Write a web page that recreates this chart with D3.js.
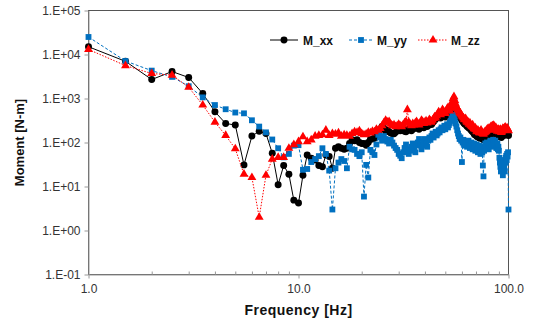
<!DOCTYPE html>
<html>
<head>
<meta charset="utf-8">
<script src="https://cdn.jsdelivr.net/npm/d3@7"></script>
<style>
  body { margin: 0; background: #fff; }
  svg { display: block; font-family: Arial, "Liberation Sans", sans-serif; }
</style>
</head>
<body>
<div id="chart"></div>
<script>
// frequency grid of the spectrum: 1.0 .. 100.0 Hz every 0.5 Hz
const freqStep = 0.5;
const frequencies = d3.range(1, 100 + freqStep / 2, freqStep);

// values, one row = 5 Hz (10 points)
const mxx = [
  15000, 7000, 2700, 4100, 3000, 1300, 500, 270, 250, 31,
  140, 180, 160, 57, 11, 30, 19, 4.9, 4.2, 18,
  52, 44, 40, 30, 28, 52, 48, 26, 74, 80,
  74, 70, 74, 95, 115, 110, 115, 100, 95, 95,
  87, 100, 118, 120, 125, 140, 170, 200, 230, 210,
  180, 190, 175, 165, 160, 158, 170, 185, 190, 185,
  200, 190, 180, 175, 190, 205, 195, 185, 200, 215,
  210, 230, 215, 200, 215, 240, 230, 215, 235, 250,
  230, 245, 260, 270, 255, 280, 300, 320, 340, 360,
  400, 430, 380, 360, 420, 460, 440, 400, 380, 420,
  470, 500, 460, 420, 480, 560, 700, 820, 900, 750,
  600, 520, 480, 440, 400, 380, 360, 340, 320, 300,
  290, 270, 260, 280, 250, 230, 240, 220, 210, 230,
  200, 190, 180, 200, 170, 160, 150, 165, 150, 140,
  135, 150, 140, 130, 125, 140, 150, 135, 125, 120,
  115, 125, 120, 130, 140, 135, 145, 150, 160, 150,
  140, 155, 165, 170, 160, 175, 180, 170, 185, 175,
  165, 160, 170, 155, 150, 140, 145, 150, 140, 135,
  145, 150, 140, 130, 140, 150, 160, 155, 145, 150,
  165, 170, 160, 150, 155, 165, 160, 150, 145
];

const myy = [
  25000, 7100, 4300, 3100, 1900, 1060, 710, 570, 480, 460,
  320, 230, 170, 117, 74, 46, 55, 85, 87, 24,
  25, 36, 42, 49, 74, 55, 23, 3.0, 26, 35,
  42, 38, 26, 80, 70, 68, 55, 49, 60, 5.9,
  31, 16, 68, 60, 52, 90, 150, 130, 110, 140,
  120, 105, 95, 115, 100, 85, 75, 68, 55, 50,
  44, 60, 75, 90, 70, 55, 65, 80, 95, 75,
  60, 85, 100, 120, 90, 70, 85, 105, 120, 95,
  80, 110, 130, 115, 140, 160, 130, 150, 175, 145,
  160, 190, 170, 200, 220, 190, 210, 240, 200, 230,
  260, 220, 250, 280, 310, 350, 400, 430, 380, 320,
  270, 230, 190, 160, 140, 120, 130, 110, 36, 100,
  115, 95, 85, 105, 90, 80, 95, 110, 85, 75,
  90, 100, 80, 70, 85, 95, 75, 65, 80, 90,
  70, 60, 75, 85, 65, 55, 70, 80, 60, 30,
  17, 65, 80, 95, 75, 85, 100, 90, 80, 70,
  85, 100, 110, 95, 80, 90, 105, 115, 95, 85,
  100, 110, 90, 75, 85, 95, 70, 80, 65, 45,
  35, 28, 22, 30, 40, 25, 18, 30, 38, 28,
  22, 35, 45, 50, 40, 55, 48, 60, 3.0
];

const mzz = [
  13000, 5600, 3700, 3400, 1800, 710, 290, 145, 72, 19,
  16, 2.0, 18, 42, 46, 46, 74, 89, 105, 135,
  105, 115, 140, 145, 150, 190, 145, 160, 155, 165,
  140, 150, 145, 140, 160, 175, 170, 185, 160, 150,
  155, 170, 165, 180, 175, 200, 190, 210, 240, 280,
  320, 290, 300, 260, 240, 250, 230, 240, 260, 240,
  230, 250, 280, 300, 560, 290, 260, 240, 270, 250,
  280, 300, 270, 250, 280, 320, 300, 270, 290, 310,
  280, 300, 330, 310, 290, 320, 350, 380, 360, 400,
  450, 500, 460, 430, 500, 560, 520, 480, 460, 520,
  580, 620, 560, 520, 600, 700, 850, 1000, 1100, 900,
  750, 650, 600, 560, 520, 480, 460, 430, 400, 380,
  360, 340, 330, 350, 310, 290, 300, 280, 260, 280,
  250, 240, 230, 250, 220, 210, 200, 215, 195, 180,
  175, 190, 180, 170, 165, 180, 190, 175, 165, 160,
  155, 165, 170, 180, 175, 185, 195, 200, 210, 200,
  190, 205, 220, 230, 215, 235, 240, 225, 245, 230,
  215, 205, 220, 200, 190, 180, 195, 200, 185, 175,
  190, 200, 185, 170, 180, 195, 210, 205, 190, 195,
  215, 225, 210, 195, 200, 215, 205, 190, 185
];

const seriesNames = ["M_xx", "M_yy", "M_zz"];
const yTickValues = [1e-1, 1e0, 1e1, 1e2, 1e3, 1e4, 1e5];
const xTickValues = [1, 10, 100];
const xMinorTicks = [2, 3, 4, 5, 6, 7, 8, 9, 20, 30, 40, 50, 60, 70, 80, 90];

const totalWidth = 534, totalHeight = 324;
const plot = { left: 88.5, right: 508.5, top: 10.5, bottom: 274.5 };

const series = [
  { name: seriesNames[0], values: mxx, color: "#000000", dash: null, symbol: d3.symbolCircle, size: 38 },
  { name: seriesNames[1], values: myy, color: "#0070C0", dash: "3,2", symbol: d3.symbolSquare, size: 34 },
  { name: seriesNames[2], values: mzz, color: "#FF0000", dash: "1.5,1.5", symbol: d3.symbolTriangle, size: 34 }
];

const svg = d3.select("#chart").append("svg")
  .attr("width", totalWidth)
  .attr("height", totalHeight);

const x = d3.scaleLog().domain([1, 100]).range([plot.left, plot.right]);
const y = d3.scaleLog().domain([0.1, 1e5]).range([plot.bottom, plot.top]);

// plot area border (top/right darker)
svg.append("rect")
  .attr("x", plot.left).attr("y", plot.top)
  .attr("width", plot.right - plot.left).attr("height", plot.bottom - plot.top)
  .attr("fill", "none").attr("stroke", "#555").attr("stroke-width", 1);

const expFormat = d => {
  const e = Math.round(Math.log10(d));
  return "1.E" + (e < 0 ? "-" : "+") + String(Math.abs(e)).padStart(2, "0");
};

// Y axis
const yAxis = svg.append("g")
  .attr("transform", `translate(${plot.left},0)`)
  .call(d3.axisLeft(y).tickValues(yTickValues).tickFormat(expFormat).tickSizeInner(4).tickSizeOuter(0).tickPadding(4));
yAxis.select(".domain").attr("stroke", "#999");
yAxis.selectAll(".tick line").attr("stroke", "#999");
yAxis.selectAll("text").attr("fill", "#333").style("font-size", "12px");

// X axis, major ticks
const xAxis = svg.append("g")
  .attr("transform", `translate(0,${plot.bottom})`)
  .call(d3.axisBottom(x).tickValues(xTickValues).tickFormat(d3.format(".1f")).tickSizeInner(4).tickSizeOuter(0).tickPadding(6));
xAxis.select(".domain").attr("stroke", "#999");
xAxis.selectAll(".tick line").attr("stroke", "#999");
xAxis.selectAll("text").attr("fill", "#333").style("font-size", "12px");

// X axis, minor ticks pointing inside
const xMinor = svg.append("g")
  .attr("transform", `translate(0,${plot.bottom})`)
  .call(d3.axisBottom(x).tickValues(xMinorTicks).tickFormat("").tickSizeInner(-3).tickSizeOuter(0));
xMinor.select(".domain").remove();
xMinor.selectAll(".tick line").attr("stroke", "#999");

// axis titles
svg.append("text")
  .attr("x", (plot.left + plot.right) / 2)
  .attr("y", 315)
  .attr("text-anchor", "middle")
  .style("font-size", "14px")
  .style("font-weight", "bold")
  .style("letter-spacing", "0.5px")
  .attr("fill", "#111")
  .text("Frequency [Hz]");

svg.append("text")
  .attr("transform", `translate(24,${(plot.top + plot.bottom) / 2}) rotate(-90)`)
  .attr("text-anchor", "middle")
  .style("font-size", "13px")
  .style("font-weight", "bold")
  .attr("fill", "#111")
  .text("Moment [N-m]");

// series
const line = d3.line()
  .x(d => x(d[0]))
  .y(d => y(d[1]));

series.forEach(s => {
  const pts = frequencies.map((f, i) => [f, s.values[i]]);
  svg.append("path")
    .datum(pts)
    .attr("fill", "none")
    .attr("stroke", s.color)
    .attr("stroke-width", 1)
    .attr("stroke-dasharray", s.dash)
    .attr("d", line);

  svg.append("g")
    .selectAll("path")
    .data(pts)
    .join("path")
    .attr("transform", d => `translate(${x(d[0])},${y(d[1])})`)
    .attr("d", d3.symbol().type(s.symbol).size(s.size))
    .attr("fill", s.color);
});

// legend
const legendItems = [
  { x0: 270, x1: 298, tx: 303 },
  { x0: 349, x1: 373, tx: 377 },
  { x0: 418, x1: 448, tx: 451 }
];
const legendY = 40;
series.forEach((s, i) => {
  const li = legendItems[i];
  svg.append("line")
    .attr("x1", li.x0).attr("x2", li.x1)
    .attr("y1", legendY).attr("y2", legendY)
    .attr("stroke", s.color)
    .attr("stroke-dasharray", s.dash);
  svg.append("path")
    .attr("transform", `translate(${(li.x0 + li.x1) / 2},${legendY})`)
    .attr("d", d3.symbol().type(s.symbol).size(s.size))
    .attr("fill", s.color);
  svg.append("text")
    .attr("x", li.tx)
    .attr("y", legendY + 4.5)
    .style("font-size", "12px")
    .style("font-weight", "bold")
    .attr("fill", "#111")
    .text(s.name);
});
</script>
</body>
</html>
